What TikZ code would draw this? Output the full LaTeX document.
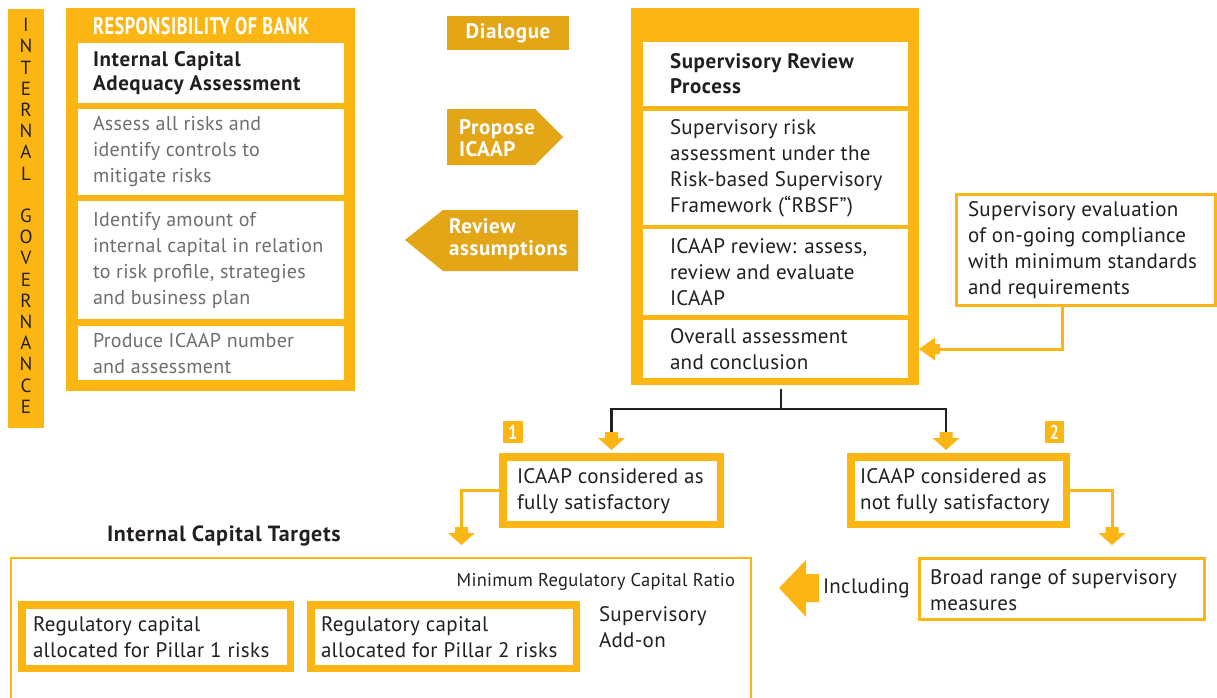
\documentclass[tikz,border=0pt]{standalone}
\usepackage{fontspec}
\usepackage{graphicx}
\setmainfont{PT Sans}[LetterSpace=1.5, BoldFeatures={LetterSpace=3}]
\usetikzlibrary{calc}
\definecolor{gold}{HTML}{FBB614}
\definecolor{ochre}{HTML}{E3A617}
\definecolor{ink}{HTML}{231F20}
\definecolor{slate}{HTML}{6D6E71}
\begin{document}
\begin{tikzpicture}[x=1pt,y=-1pt,
  every node/.style={inner sep=0pt, outer sep=0pt},
  body/.style={font=\fontsize{21}{26}\selectfont, text=ink, align=left, anchor=west},
  bodyb/.style={body, font=\bfseries\fontsize{21}{24}\selectfont},
  soft/.style={body, text=slate, font=\fontsize{20}{26}\selectfont},
  flag/.style={font=\bfseries\fontsize{21}{22.5}\selectfont, text=white, align=left, anchor=west},
  panel/.style={fill=gold, anchor=north west},
  cell/.style={fill=white, anchor=north west},
  thick frame/.style={draw=gold, line width=7.5pt, fill=white, anchor=north west},
  thin frame/.style={draw=gold, line width=3pt, fill=white, anchor=north west},
  goldline/.style={draw=gold, line width=3pt},
  blk/.style={draw=ink, line width=2.5pt},
  dnhead/.pic={\fill[gold] (-6.5,-18) -- (6.5,-18) -- (6.5,-12) -- (13.5,-12) -- (0,0)
                 -- (-13.5,-12) -- (-6.5,-12) -- cycle;},
  lfthead/.pic={\fill[gold] (0,0) -- (16,-11.5) -- (16,-5) -- (21,-5) -- (21,5) -- (16,5)
                 -- (16,11.5) -- cycle;}
]
\useasboundingbox (0,0) rectangle (1217,697);

% ---- internal governance bar ----
\node[panel, minimum width=36, minimum height=419] (gov) at (8,9) {};
\foreach \ch [count=\i from 0] in {I,N,T,E,R,N,A,L,,G,O,V,E,R,N,A,N,C,E}
  \node[font=\fontsize{19}{19}\selectfont, text=ink] (gv\i) at (26,25+21.2*\i) {\ch};

% ---- bank column ----
\node[panel, minimum width=289, minimum height=383] (bank) at (66,8) {};
\node[anchor=west, text=white, font=\bfseries\fontsize{24}{24}\selectfont] (bankttl) at (93,26)
  {\scalebox{0.76}[1]{RESPONSIBILITY OF BANK}};
\node[cell, minimum width=266, minimum height=60]  (b1) at (78,43) {};
\node[cell, minimum width=266, minimum height=86]  (b2) at (78,109) {};
\node[cell, minimum width=266, minimum height=118] (b3) at (78,201) {};
\node[cell, minimum width=266, minimum height=54]  (b4) at (78,326) {};
\node[bodyb] (b1t) at ([xshift=15pt]b1.west) {Internal Capital\\Adequacy Assessment};
\node[soft] (b2t) at ([xshift=15pt]b2.west) {Assess all risks and\\identify controls to\\mitigate risks};
\node[soft] (b3t) at ([xshift=15pt]b3.west) {Identify amount of\\internal capital in relation\\to risk profile, strategies\\and business plan};
\node[soft] (b4t) at ([xshift=15pt]b4.west) {Produce ICAAP number\\and assessment};

% ---- dialogue markers ----
\node[fill=ochre, anchor=north west, minimum width=122, minimum height=34] (dlg) at (447,16) {};
\node[font=\bfseries\fontsize{21}{22}\selectfont, text=white] (dlgt) at (dlg.center) {Dialogue};
\fill[ochre] (447,109) -- (535,109) -- (563,137) -- (535,165) -- (447,165) -- cycle;
\node[flag] (prop) at (459,138) {Propose\\ICAAP};
\fill[ochre] (578,210) -- (443,210) -- (405,240) -- (443,271) -- (578,271) -- cycle;
\node[flag] (rev) at (449,239) {Review\\assumptions};

% ---- supervisory column ----
\node[panel, minimum width=288, minimum height=377] (sup) at (631,8) {};
\node[cell, minimum width=265, minimum height=64]  (s1) at (643,42) {};
\node[cell, minimum width=265, minimum height=114] (s2) at (643,111) {};
\node[cell, minimum width=265, minimum height=86]  (s3) at (643,229) {};
\node[cell, minimum width=265, minimum height=58]  (s4) at (643,320) {};
\node[bodyb, font=\bfseries\fontsize{21}{25}\selectfont] (s1t) at ([xshift=27pt]s1.west) {Supervisory Review\\Process};
\node[body] (s2t) at ([xshift=27pt]s2.west) {Supervisory risk\\assessment under the\\Risk-based Supervisory\\Framework (“RBSF”)};
\node[body] (s3t) at ([xshift=27pt]s3.west) {ICAAP review: assess,\\review and evaluate\\ICAAP};
\node[body] (s4t) at ([xshift=27pt]s4.west) {Overall assessment\\and conclusion};

% ---- ongoing compliance ----
\node[thin frame, minimum width=259, minimum height=111] (eval) at (956.5,194.5) {};
\node[body] (evalt) at (968,250) {Supervisory evaluation\\of on-going compliance\\with minimum standards\\and requirements};
\draw[goldline] ([xshift=-24pt]eval.south) |- ($(sup.east |- s4)+(17,0)$);
\pic at (sup.east |- s4) {lfthead};

% ---- outcomes ----
\node[thick frame, minimum width=217.5, minimum height=67.5] (full) at (502.75,456.75) {};
\node[body] (fullt) at (517,491) {ICAAP considered as\\fully satisfactory};
\node[thick frame, minimum width=215.5, minimum height=67.5] (nfull) at (850.75,456.75) {};
\node[body] (nfullt) at (860,491) {ICAAP considered as\\not fully satisfactory};
\node[fill=gold, anchor=north west, minimum width=20, minimum height=22] (n1) at (503,421) {};
\node[font=\bfseries\fontsize{20}{20}\selectfont, text=white] (n1t) at (n1.center) {\scalebox{0.8}[1]{1}};
\node[fill=gold, anchor=north west, minimum width=19, minimum height=22] (n2) at (1045,421) {};
\node[font=\bfseries\fontsize{20}{20}\selectfont, text=white] (n2t) at (n2.center) {\scalebox{0.8}[1]{2}};

\coordinate (fk) at ([xshift=6pt,yshift=-24pt]sup.south);
\draw[blk] ([xshift=6pt,yshift=-4pt]sup.south) -- (fk);
\draw[blk] (fk) -| ([yshift=24pt]full.north);
\draw[blk] (fk) -| ([xshift=-12.5pt,yshift=24pt]nfull.north);
\pic at ([yshift=6.75pt]full.north) {dnhead};
\pic at ([xshift=-12.5pt,yshift=6.75pt]nfull.north) {dnhead};

% ---- internal capital targets ----
\coordinate (tgtA) at (461.5,545);
\draw[goldline] (full.west) -| ([yshift=17pt]tgtA);
\pic at (tgtA) {dnhead};
\node[bodyb, font=\bfseries\fontsize{22}{24}\selectfont, anchor=west] (ict) at (107,536) {Internal Capital Targets};
\draw[draw=gold, line width=2.5pt] (11,705) -- (11,558) coordinate (big) -- (751,558) -- (751,705);
\node[font=\fontsize{18.5}{19}\selectfont, text=ink, anchor=east] (mrc) at (735,582) {Minimum Regulatory Capital Ratio};
\node[thick frame, minimum width=268.5, minimum height=63.5] (p1) at (21.75,604.75) {};
\node[body] (p1t) at (33,637) {Regulatory capital\\allocated for Pillar 1 risks};
\node[thick frame, minimum width=265.5, minimum height=63.5] (p2) at (310.75,604.75) {};
\node[body] (p2t) at (321,637) {Regulatory capital\\allocated for Pillar 2 risks};
\node[body] (addon) at (599,627) {Supervisory\\Add-on};

% ---- supervisory measures ----
\node[thin frame, minimum width=285, minimum height=61] (broad) at (919.5,558.5) {};
\node[body] (broadt) at (930,590) {Broad range of supervisory\\measures};
\coordinate (tgtB) at (1112,545);
\draw[goldline] (nfull.east) -| ([yshift=17pt]tgtB);
\pic at (tgtB) {dnhead};
\fill[gold] (779,588) -- (806,560) -- (806,574) -- (819,574) -- (819,602) -- (806,602) -- (806,617) -- cycle;
\node[body] (incl) at (823,588) {Including};

\end{tikzpicture}
\end{document}
